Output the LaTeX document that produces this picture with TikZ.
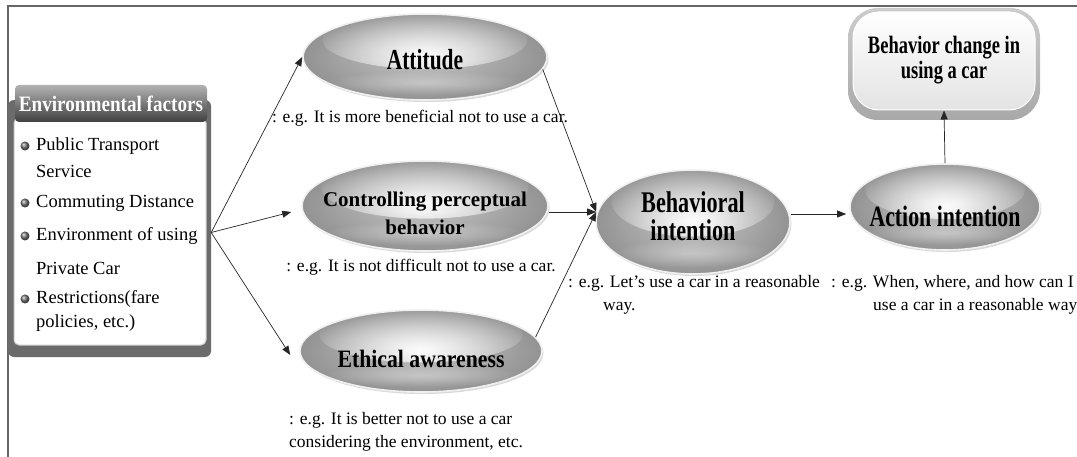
\documentclass[tikz,border=0pt]{standalone}
\usepackage{fontspec}
\setmainfont{Liberation Serif}
\newfontfamily\narrowserif[FakeStretch=0.74]{Liberation Serif}
\newfontfamily\semiserif[FakeStretch=0.87]{Liberation Serif}
\usetikzlibrary{positioning,calc,arrows.meta,shapes.geometric,shadows,fadings}

\tikzfading[name=softglow, inner color=transparent!0, outer color=transparent!100]

\begin{document}
\begin{tikzpicture}[
    x=1pt, y=-1pt,
    bubble/.style={
        ellipse,
        draw=gray!12,
        line width=1.6pt,
        inner sep=0pt,
        inner color=gray!45,
        outer color=gray!85,
        drop shadow={shadow xshift=1.5pt, shadow yshift=-2pt, opacity=0.3},
        path picture={
            \fill[white, opacity=0.95, path fading=softglow]
                let \p1=(path picture bounding box.north east),
                    \p2=(path picture bounding box.south west) in
                (\x1/2+\x2/2, \y1*0.7+\y2*0.3)
                ellipse ({0.42*(\x1-\x2)} and {0.34*(\y1-\y2)});
            \fill[white, opacity=0.35, path fading=softglow]
                let \p1=(path picture bounding box.north east),
                    \p2=(path picture bounding box.south west) in
                (\x1/2+\x2/2, \y1*0.2+\y2*0.8)
                ellipse ({0.42*(\x1-\x2)} and {0.14*(\y1-\y2)});
        }
    },
    title/.style={inner sep=0pt, align=center, font=\narrowserif\bfseries\fontsize{29}{28}\selectfont},
    note/.style={inner sep=0pt, align=left, font=\fontsize{17.5}{23}\selectfont},
    itemtext/.style={inner sep=0pt, anchor=west, font=\fontsize{18.5}{23}\selectfont},
    arrow/.style={-{Triangle[length=9pt,width=7pt]}, line width=0.7pt, black!85}
]
\useasboundingbox (0,0) rectangle (1077,457);

% frame
\draw[black!60, line width=1.3pt] (8,457) -- (8,6) -- (1077,6);

% environmental factors
\node[rectangle, rounded corners=6pt, fill=black!58, minimum width=203pt, minimum height=257pt] (envframe) at (109.5,228.5) {};
\node[rectangle, rounded corners=5pt, fill=white, draw=gray!40, line width=1pt, minimum width=192pt, minimum height=227pt] (envbody) at (110,231.5) {};
\node[rectangle, rounded corners=4pt, top color=gray!60, bottom color=black!75, text=white,
      minimum width=192pt, minimum height=37pt, inner sep=0pt,
      font=\semiserif\bfseries\fontsize{22}{24}\selectfont] (envhead) at (111,103.5) {Environmental factors};

\foreach \by in {146,203,236,299}
    \shade[ball color=black!55] (25,\by) circle (4.5pt);
\foreach \ly/\ltxt in {146/Public Transport, 171/Service, 203/Commuting Distance,
                       236/Environment of using, 268/Private Car,
                       299/Restrictions(fare, 323/{policies, etc.)}}
    \node[itemtext] (item\ly) at (36,\ly) {\ltxt};

% ellipses
\node[bubble, minimum width=244pt, minimum height=86pt] (attitude) at (425,57) {};
\node[bubble, minimum width=246pt, minimum height=90pt] (ctrl) at (425,206) {};
\node[bubble, minimum width=242pt, minimum height=82pt] (ethical) at (421,351) {};
\node[bubble, minimum width=194pt, minimum height=104pt] (behav) at (693,222) {};
\node[bubble, minimum width=190pt, minimum height=86pt] (action) at (945,207) {};

\node[title] (attitudetxt) at ([yshift=-3pt]attitude.center) {Attitude};
\node[title, font=\bfseries\fontsize{21}{28}\selectfont] (ctrltxt) at ([yshift=-7pt]ctrl.center) {Controlling perceptual\\behavior};
\node[title, font=\semiserif\bfseries\fontsize{25}{28}\selectfont] (ethicaltxt) at ([yshift=-8pt]ethical.center) {Ethical awareness};
\node[title, font=\narrowserif\bfseries\fontsize{30}{28}\selectfont] (behavtxt) at ([yshift=6pt]behav.center) {Behavioral\\intention};
\node[title, font=\narrowserif\bfseries\fontsize{29.5}{28}\selectfont] (actiontxt) at ([yshift=-9pt]action.center) {Action intention};

% behavior change
\node[rectangle, rounded corners=30pt, top color=gray!40, bottom color=gray!68,
      minimum width=192pt, minimum height=112pt] (change) at (944,64) {};
\node[rectangle, rounded corners=26pt, top color=white, bottom color=gray!22, draw=white, line width=1pt,
      minimum width=182pt, minimum height=98pt] (changein) at (944,61) {};
\node[title, font=\narrowserif\bfseries\fontsize{25}{25}\selectfont] (changetxt) at ([yshift=1pt]changein.center) {Behavior change in\\using a car};

% captions
\node[note] (attcap) at (420,118) {: e.g. It is more beneficial not to use a car.};
\node[note] (ctrlcap) at (421,267) {: e.g. It is not difficult not to use a car.};
\node[note, anchor=west] (ethcap) at (289,432) {: e.g. It is better not to use a car\\considering the environment, etc.};
\node[note, anchor=west] (behavcap) at (568,295) {: e.g. Let’s use a car in a reasonable\\\hspace*{35pt}way.};
\node[note, anchor=west] (actcap) at (831,295) {: e.g. When, where, and how can I\\\hspace*{42pt}use a car in a reasonable way?};

% connectors
\coordinate (fork) at ([yshift=-4pt]envframe.east);
\coordinate (behavin) at ([xshift=1pt,yshift=10pt]behav.west);
\coordinate (actin) at ([xshift=-3pt,yshift=-7pt]action.west);

\draw[arrow] (fork) -- (attitude.west);
\draw[arrow] (fork) -- ([xshift=-10pt,yshift=-6pt]ctrl.west);
\draw[arrow] (fork) -- ([xshift=-9pt,yshift=-4pt]ethical.west);
\draw[arrow] (attitude.-6) -- (behavin);
\draw[arrow] (ctrl.east |- behavin) -- (behavin);
\draw[arrow] (ethical.7) -- (behavin);
\draw[arrow] (behav.east |- actin) -- (actin);
\draw[arrow] (action.north) -- (changein.south);

\end{tikzpicture}
\end{document}
